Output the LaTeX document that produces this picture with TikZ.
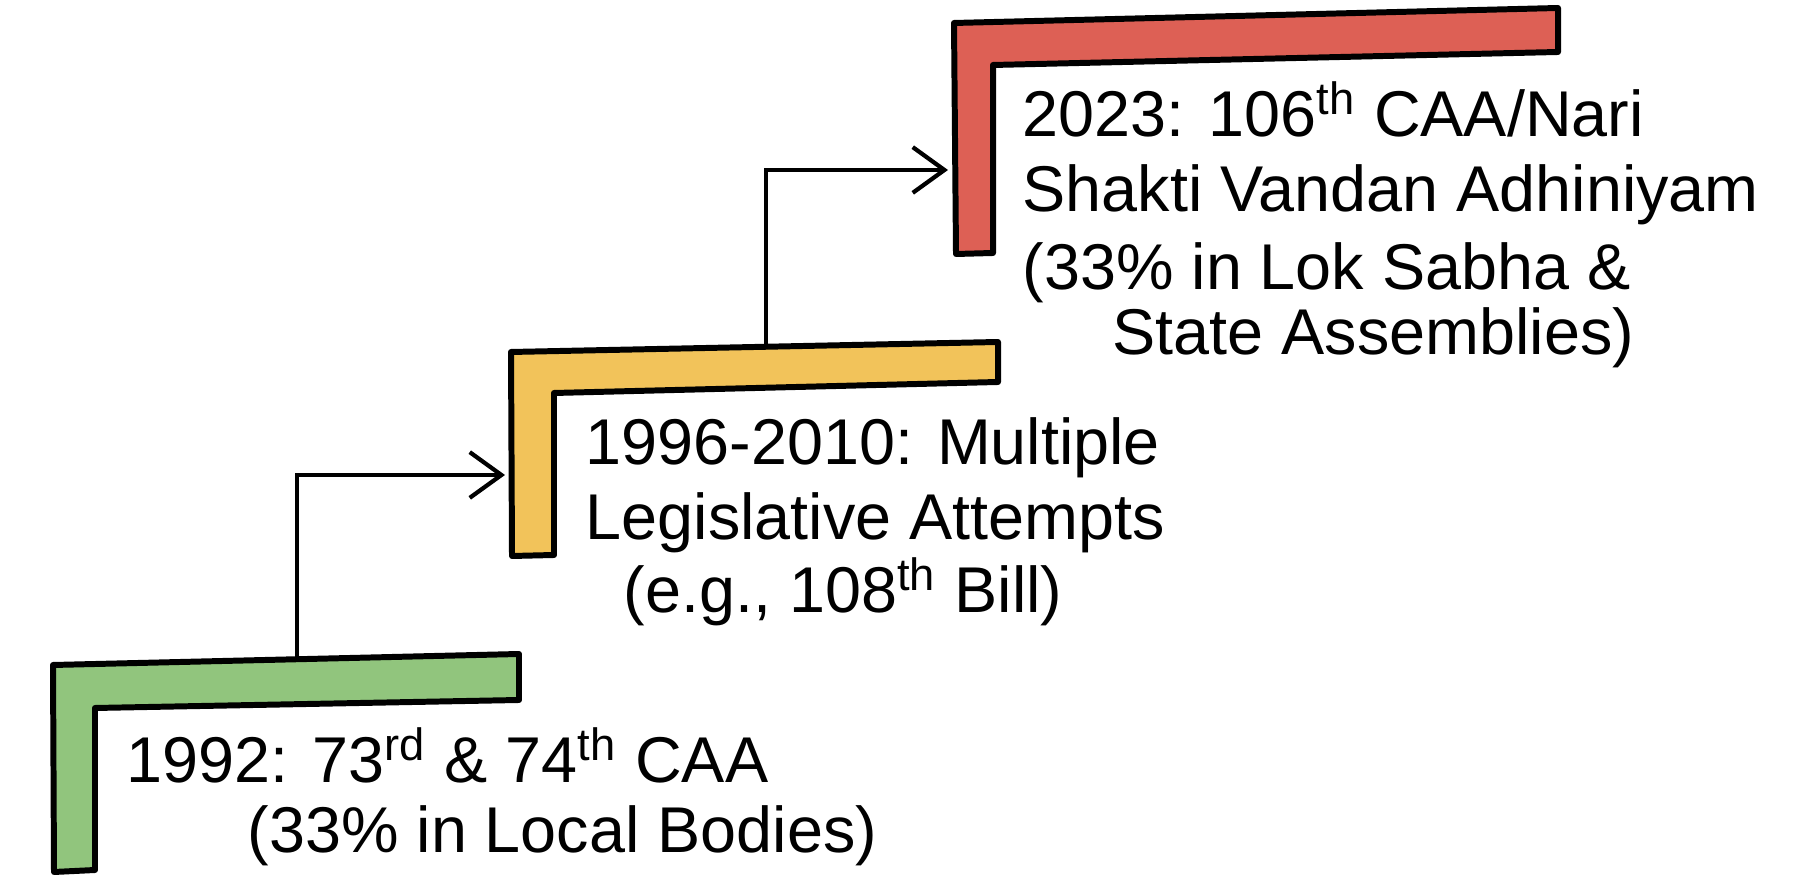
\documentclass[tikz,border=0pt]{standalone}
\usepackage{fontspec}
\setmainfont{Liberation Sans}
\usetikzlibrary{arrows.meta,positioning}

\definecolor{stepgreen}{RGB}{145,197,125}
\definecolor{stepyellow}{RGB}{242,195,90}
\definecolor{stepred}{RGB}{221,96,85}

\begin{document}
\begin{tikzpicture}[x=0.01cm, y=-0.01cm,
  >={Straight Barb[length=9pt,width=13pt]},
  bar/.style={draw=black, line width=1.7pt, line join=round},
  txt/.style={anchor=base west, inner sep=0pt, font=\fontsize{18.4}{22}\selectfont},
  link/.style={->, line width=1.2pt}]
 \useasboundingbox (0,0) rectangle (1806,892);

 % the three steps
 \draw[bar, fill=stepgreen]  (53,665) -- (519,654) -- (519,700) -- (95,708) -- (95,870) -- (54,872) -- cycle;
 \draw[bar, fill=stepyellow] (511,352) -- (998,342) -- (998,382) -- (554,393) -- (554,555) -- (512,556) -- cycle;
 \draw[bar, fill=stepred]    (954,23) -- (1558,8) -- (1558,52) -- (993,65) -- (993,253) -- (956,254) -- cycle;

 \coordinate (g-top) at (297,657);
 \coordinate (y-in)  at (505,475);
 \coordinate (y-top) at (766,346);
 \coordinate (r-in)  at (948,170);

 % labels
 \node[txt] (g1) at (126,783) {1992: 73\textsuperscript{rd} \& 74\textsuperscript{th} CAA};
 \node[txt] (g2) at (247,853) {(33\% in Local Bodies)};

 \node[txt] (y1) at (585,465) {1996-2010: Multiple};
 \node[txt] (y2) at (585,540) {Legislative Attempts};
 \node[txt] (y3) at (623,613) {(e.g., 108\textsuperscript{th} Bill)};

 \node[txt] (r1) at (1022,137) {2023: 106\textsuperscript{th} CAA/Nari};
 \node[txt] (r2) at (1022,212) {Shakti Vandan Adhiniyam};
 \node[txt] (r3) at (1022,290) {(33\% in Lok Sabha \&};
 \node[txt] (r4) at (1112,355) {State Assemblies)};

 \draw[link] (g-top) |- (y-in);
 \draw[link] (y-top) |- (r-in);
\end{tikzpicture}
\end{document}
